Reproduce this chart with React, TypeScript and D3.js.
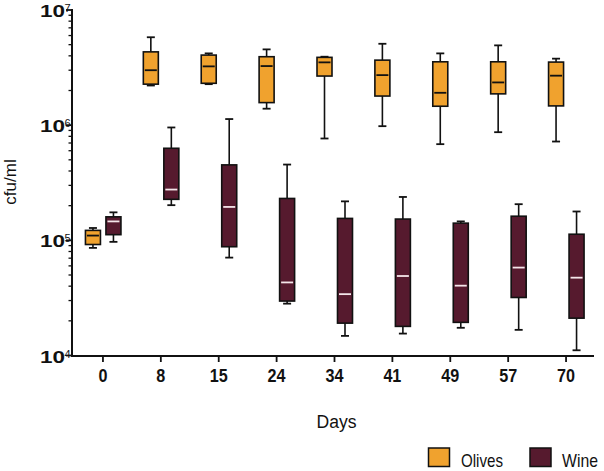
import React from "react";
import * as d3 from "d3";

const days = ["0", "8", "15", "24", "34", "41", "49", "57", "70"];

const olivesMin = [8.6e4, 2.21e6, 2.27e6, 1.39e6, 7.66e5, 9.8e5, 6.84e5, 8.69e5, 7.21e5];
const olivesQ1 = [9.2e4, 2.27e6, 2.31e6, 1.57e6, 2.67e6, 1.79e6, 1.46e6, 1.87e6, 1.47e6];
const olivesMedian = [1.1e5, 3.0e6, 3.24e6, 3.26e6, 3.51e6, 2.72e6, 1.91e6, 2.35e6, 2.69e6];
const olivesQ3 = [1.22e5, 4.33e6, 4.06e6, 3.93e6, 3.88e6, 3.67e6, 3.55e6, 3.55e6, 3.53e6];
const olivesMax = [1.28e5, 5.8e6, 4.2e6, 4.55e6, 3.93e6, 5.09e6, 4.2e6, 4.93e6, 3.78e6];

const wineMin = [9.7e4, 2.02e5, 7.08e4, 2.82e4, 1.48e4, 1.55e4, 1.74e4, 1.67e4, 1.11e4];
const wineQ1 = [1.12e5, 2.27e5, 8.8e4, 2.97e4, 1.91e4, 1.79e4, 1.94e4, 3.19e4, 2.11e4];
const wineMedian = [1.46e5, 2.76e5, 1.95e5, 4.31e4, 3.41e4, 4.9e4, 4.04e4, 5.8e4, 4.74e4];
const wineQ3 = [1.6e5, 6.3e5, 4.52e5, 2.31e5, 1.55e5, 1.53e5, 1.41e5, 1.62e5, 1.13e5];
const wineMax = [1.75e5, 9.55e5, 1.13e6, 4.55e5, 2.18e5, 2.38e5, 1.46e5, 2.06e5, 1.78e5];

const majorTicks = [1e4, 1e5, 1e6, 1e7];
const majorExp = ["4", "5", "6", "7"];

const OLIVE = "#f0a22e";
const WINE = "#561a2e";
const FONT = "'Liberation Sans', Arial, sans-serif";

export default function App() {
  const W = 604, H = 471;
  const axisX = 72, axisY = 356;
  const y = d3.scaleLog().domain([1e4, 1e7]).range([355.5, 10]);
  const x = d3.scaleBand<string>().domain(days).range([74, 595]).padding(0);
  const bw = 15;
  const cap = 8;

  const minor: number[] = [];
  for (let e = 4; e < 7; e++) for (let k = 2; k <= 9; k++) minor.push(k * Math.pow(10, e));

  const series = [
    { name: "Olives", color: OLIVE, med: "#111", off: -10, mn: olivesMin, q1: olivesQ1, md: olivesMedian, q3: olivesQ3, mx: olivesMax },
    { name: "Wine", color: WINE, med: "#f4e6ea", off: 10.5, mn: wineMin, q1: wineQ1, md: wineMedian, q3: wineQ3, mx: wineMax },
  ];

  return (
    <svg width={W} height={H} style={{ position: "absolute", left: 0, top: 0, background: "#fff" }} fontFamily={FONT}>
      {/* boxes */}
      {series.map((s) =>
        days.map((d, i) => {
          const cx = (x(d) as number) + x.bandwidth() / 2 + s.off;
          const yT = y(s.q3[i]), yB = y(s.q1[i]);
          return (
            <g key={s.name + d}>
              <line x1={cx} x2={cx} y1={y(s.mx[i])} y2={yT} stroke="#111" strokeWidth={1.6} />
              <line x1={cx} x2={cx} y1={yB} y2={y(s.mn[i])} stroke="#111" strokeWidth={1.6} />
              <line x1={cx - cap / 2} x2={cx + cap / 2} y1={y(s.mx[i])} y2={y(s.mx[i])} stroke="#111" strokeWidth={1.8} />
              <line x1={cx - cap / 2} x2={cx + cap / 2} y1={y(s.mn[i])} y2={y(s.mn[i])} stroke="#111" strokeWidth={1.8} />
              <rect x={cx - bw / 2} y={yT} width={bw} height={yB - yT} fill={s.color} stroke="#111" strokeWidth={1.6} />
              <line x1={cx - bw / 2 + 1.5} x2={cx + bw / 2 - 1.5} y1={y(s.md[i])} y2={y(s.md[i])} stroke={s.med} strokeWidth={1.8} />
            </g>
          );
        })
      )}

      {/* y axis */}
      <line x1={axisX} x2={axisX} y1={y(1e7) - 1} y2={axisY + 1} stroke="#111" strokeWidth={2} />
      {minor.map((v) => (
        <line key={v} x1={axisX - 3.5} x2={axisX} y1={y(v)} y2={y(v)} stroke="#111" strokeWidth={1.3} />
      ))}
      {majorTicks.map((v, i) => (
        <g key={v}>
          <line x1={axisX - 6} x2={axisX} y1={y(v)} y2={y(v)} stroke="#111" strokeWidth={1.8} />
          <text x={40} y={y(v) + 7} fontSize={17} fontWeight="bold" textLength={25} lengthAdjust="spacingAndGlyphs" fill="#111">10</text>
          <text x={64.5} y={y(v) + 2} fontSize={11} fill="#111">{majorExp[i]}</text>
        </g>
      ))}

      {/* x axis */}
      <line x1={axisX - 1} x2={594} y1={axisY} y2={axisY} stroke="#111" strokeWidth={2} />
      {days.map((d) => {
        const cx = (x(d) as number) + x.bandwidth() / 2;
        return (
          <g key={d}>
            <line x1={cx} x2={cx} y1={axisY} y2={axisY + 6} stroke="#111" strokeWidth={1.8} />
            <text x={cx} y={381.5} fontSize={19} fontWeight="bold" textAnchor="middle" textLength={d.length * 9} lengthAdjust="spacingAndGlyphs" fill="#111">{d}</text>
          </g>
        );
      })}

      {/* axis titles */}
      <text x={336.5} y={428} fontSize={18} textAnchor="middle" textLength={40} lengthAdjust="spacingAndGlyphs" fill="#111">Days</text>
      <text transform="translate(15.5,182) rotate(-90)" fontSize={17} textAnchor="middle" fill="#111">cfu/ml</text>

      {/* legend */}
      <rect x={428.5} y={448} width={21} height={18.5} fill={OLIVE} stroke="#111" strokeWidth={1.5} />
      <text x={461} y={466.5} fontSize={19} textLength={42} lengthAdjust="spacingAndGlyphs" fill="#111">Olives</text>
      <rect x={530} y={448} width={21} height={18.5} fill={WINE} stroke="#111" strokeWidth={1.5} />
      <text x={562} y={466.5} fontSize={19} textLength={36} lengthAdjust="spacingAndGlyphs" fill="#111">Wine</text>
    </svg>
  );
}
